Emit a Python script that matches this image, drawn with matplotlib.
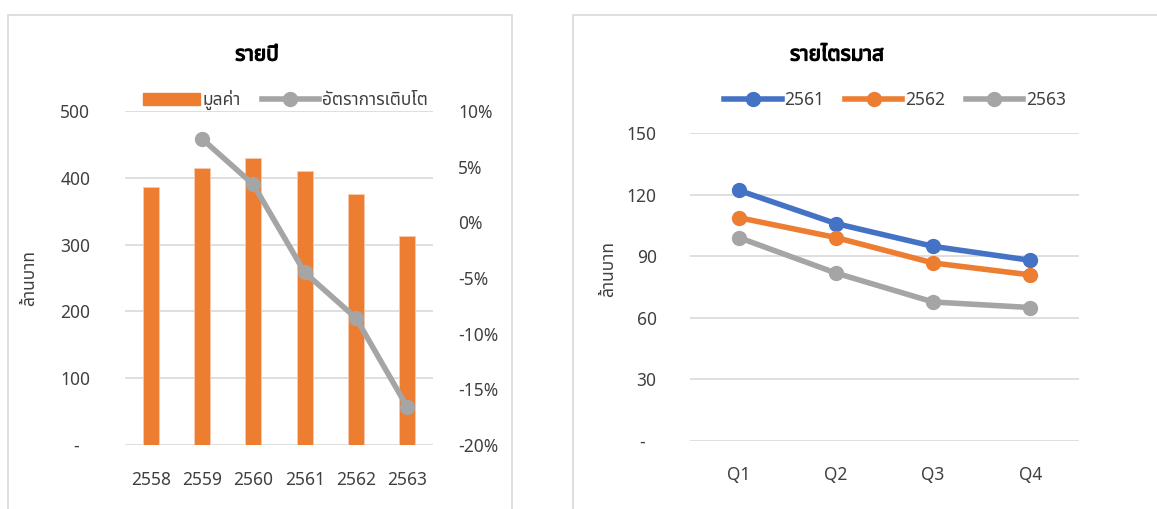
import matplotlib
matplotlib.use("Agg")
import matplotlib.pyplot as plt
import matplotlib.patheffects as pe
from matplotlib import font_manager
from matplotlib.ft2font import FT2Font
from matplotlib.patches import Rectangle
from matplotlib.lines import Line2D
from matplotlib.ticker import FixedLocator, FixedFormatter
from matplotlib.transforms import ScaledTranslation

# ---- data ----
years = ["2558", "2559", "2560", "2561", "2562", "2563"]
value_mb = [386, 415, 429, 410, 375, 313]
growth_pct = [None, 7.5, 3.4, -4.5, -8.6, -16.6]

quarters = ["Q1", "Q2", "Q3", "Q4"]
q_2561 = [122.1, 105.9, 94.8, 88.0]
q_2562 = [108.8, 99.1, 86.7, 80.9]
q_2563 = [99.1, 81.8, 67.7, 65.0]

left_ticks = [0, 100, 200, 300, 400, 500]
left_ticklabels = ["-", "100", "200", "300", "400", "500"]
growth_ticks = [-20, -15, -10, -5, 0, 5, 10]
growth_ticklabels = ["-20%", "-15%", "-10%", "-5%", "0%", "5%", "10%"]
right_ticks = [0, 30, 60, 90, 120, 150]
right_ticklabels = ["-", "30", "60", "90", "120", "150"]


def thai_family():
    preferred = ["Noto Sans Thai", "Noto Sans Thai UI", "Sarabun", "TH Sarabun New",
                 "Loma", "Garuda", "Norasi", "Kinnari", "Waree", "Tlwg Typo"]
    found = []
    for f in font_manager.fontManager.ttflist:
        try:
            if 0x0E01 in FT2Font(f.fname).get_charmap():
                found.append(f.name)
        except Exception:
            pass
    for p in preferred:
        if p in found:
            return p
    return found[0] if found else None


thai = thai_family()
families = ([thai] if thai else []) + ["DejaVu Sans"]
plt.rcParams["font.family"] = families

ORANGE = "#ED7D31"
BLUE = "#4472C4"
GREY = "#A5A5A5"
GRID = "#D9D9D9"
TICK = "#404040"
FS = 12.5

W, H = 1157, 509
fig = plt.figure(figsize=(W / 100, H / 100), dpi=100)


def px_axes(x0, y0, x1, y1):
    return fig.add_axes([x0 / W, 1 - y1 / H, (x1 - x0) / W, (y1 - y0) / H])


# panel frames
fig.add_artist(Rectangle((8 / W, -0.01), (512 - 8) / W, 1 - 15 / H + 0.01,
                         transform=fig.transFigure, fill=False,
                         edgecolor="#D9D9D9", lw=1.2))
fig.add_artist(Rectangle((573 / W, -0.01), 1, 1 - 15 / H + 0.01,
                         transform=fig.transFigure, fill=False,
                         edgecolor="#D9D9D9", lw=1.2))


def style_axes(ax):
    for s in ax.spines.values():
        s.set_visible(False)
    ax.tick_params(length=0, colors=TICK, labelsize=FS)
    ax.grid(axis="y", color=GRID, lw=1.2)
    ax.set_axisbelow(True)


def shift_zero_label(ax, dx_px):
    t = ax.yaxis.get_major_ticks()[0]
    t.label1.set_transform(t.label1.get_transform() +
                           ScaledTranslation(dx_px / 100, 0, fig.dpi_scale_trans))


bold_fx = [pe.withStroke(linewidth=0.9, foreground="black")]

# ---- annual panel ----
ax1 = px_axes(125, 111, 433, 445)
style_axes(ax1)
x = list(range(len(years)))
ax1.bar(x, value_mb, width=0.31, color=ORANGE, edgecolor="#F8CBAD", lw=0.6, zorder=2)
ax1.set_xlim(-0.5, len(years) - 0.5)
ax1.set_ylim(0, 500)
ax1.yaxis.set_major_locator(FixedLocator(left_ticks))
ax1.yaxis.set_major_formatter(FixedFormatter(left_ticklabels))
ax1.set_xticks(x)
ax1.set_xticklabels(years)
ax1.tick_params(axis="y", pad=25)
ax1.tick_params(axis="x", pad=19)
shift_zero_label(ax1, -11)
ax1.set_ylabel("ล้านบาท", fontsize=FS, color=TICK)
ax1.yaxis.set_label_coords((38 - 125) / 308, 0.5)

ax1b = ax1.twinx()
for s in ax1b.spines.values():
    s.set_visible(False)
ax1b.tick_params(length=0, colors=TICK, labelsize=FS, pad=18)
gx = [i for i, g in zip(x, growth_pct) if g is not None]
gy = [g for g in growth_pct if g is not None]
ax1b.plot(gx, gy, color=GREY, lw=4, marker="o", ms=10, zorder=3)
ax1b.set_ylim(-20, 10)
ax1b.yaxis.set_major_locator(FixedLocator(growth_ticks))
ax1b.yaxis.set_major_formatter(FixedFormatter(growth_ticklabels))

fig.text(257 / W, 1 - 55 / H, "รายปี", ha="center", va="center",
         fontsize=15, fontweight="bold", color="black", path_effects=bold_fx)

fig.legend(
    [Rectangle((0, 0), 1, 1, color=ORANGE),
     Line2D([], [], color=GREY, lw=4, marker="o", ms=10)],
    ["มูลค่า", "อัตราการเติบโต"],
    loc="center", bbox_to_anchor=(285 / W, 1 - 100 / H), ncol=2, frameon=False,
    fontsize=FS, handlelength=3.3, handletextpad=0.15, columnspacing=1.2,
    labelcolor=TICK)

# ---- quarterly panel ----
ax2 = px_axes(690, 133, 1079, 441)
style_axes(ax2)
qx = list(range(len(quarters)))
ax2.plot(qx, q_2561, color=BLUE, lw=4, marker="o", ms=10, label="2561", zorder=3)
ax2.plot(qx, q_2562, color=ORANGE, lw=4, marker="o", ms=10, label="2562", zorder=3)
ax2.plot(qx, q_2563, color=GREY, lw=4, marker="o", ms=10, label="2563", zorder=3)
ax2.set_xlim(-0.5, len(quarters) - 0.5)
ax2.set_ylim(0, 150)
ax2.yaxis.set_major_locator(FixedLocator(right_ticks))
ax2.yaxis.set_major_formatter(FixedFormatter(right_ticklabels))
ax2.set_xticks(qx)
ax2.set_xticklabels(quarters)
ax2.tick_params(axis="y", pad=24)
ax2.tick_params(axis="x", pad=18)
shift_zero_label(ax2, -12)
ax2.set_ylabel("ล้านบาท", fontsize=FS, color=TICK)
ax2.yaxis.set_label_coords((617 - 690) / 389, 0.56)

fig.text(837 / W, 1 - 55 / H, "รายไตรมาส", ha="center", va="center",
         fontsize=15, fontweight="bold", color="black", path_effects=bold_fx)

fig.legend(*ax2.get_legend_handles_labels(),
           loc="center", bbox_to_anchor=(895 / W, 1 - 100 / H), ncol=3,
           frameon=False, fontsize=FS, handlelength=3.3, handletextpad=0.15,
           columnspacing=1.2, labelcolor=TICK)

fig.savefig("out.png", dpi=100)
